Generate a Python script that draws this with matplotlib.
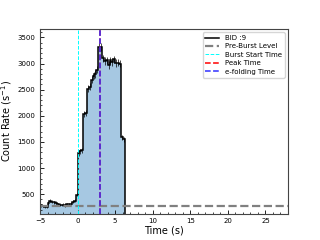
import numpy as np
import matplotlib
matplotlib.use("Agg")
import matplotlib.pyplot as plt
from matplotlib.ticker import AutoMinorLocator

# ── datos de la curva de luz (bins de 0.25 s) ───────────────────────────────
bordes = np.arange(-5.0, 6.25 + 0.01, 0.25)
tasa = [290, 275, 255, 260, 330, 375, 360, 345, 340, 310,
        300, 295, 300, 290, 305, 315, 320, 360, 380, 490,
        1290, 1320, 1340, 2030, 2050, 2520, 2560, 2690, 2770, 2800,
        2880, 3320, 3310, 3100, 3050, 3060, 2970, 3060, 3030, 3080,
        3010, 3020, 3000, 1590, 1550]
error = [25, 25, 24, 24, 27, 28, 28, 27, 27, 26,
         25, 25, 25, 25, 26, 26, 26, 28, 28, 32,
         50, 50, 50, 60, 60, 65, 65, 67, 68, 68,
         69, 74, 74, 72, 71, 71, 70, 71, 71, 72,
         71, 71, 71, 52, 51]

nivel_pre = 280
t_inicio = 0.0
t_pico = 3.0
t_efold = 3.0

centros = (bordes[:-1] + bordes[1:]) / 2

fig, ax = plt.subplots(figsize=(3.2, 2.4), dpi=100)

ax.stairs(tasa, bordes, baseline=0, fill=True, color="#a6c8e2")
ax.stairs(tasa, bordes, baseline=0, color="black", lw=1.1, label="BID :9")
ax.errorbar(centros, tasa, yerr=error, fmt="none", ecolor="black", elinewidth=0.5)

ax.axhline(nivel_pre, color="gray", ls="--", lw=1.6, label="Pre-Burst Level")
ax.axvline(t_inicio, color="cyan", ls="--", lw=0.7, label="Burst Start Time")
# el pico coincide con el e-folding: la línea azul la tapa
ax.axvline(t_pico, color="red", ls="--", lw=1.1, label="Peak Time")
ax.axvline(t_efold, color="#3030ff", ls="--", lw=1.1, label="e-folding Time")

ax.set_xlim(-5, 28)
ax.set_ylim(130, 3665)
ax.set_xticks([-5, 0, 5, 10, 15, 20, 25])
ax.set_yticks([500, 1000, 1500, 2000, 2500, 3000, 3500])
ax.xaxis.set_minor_locator(AutoMinorLocator(5))
ax.yaxis.set_minor_locator(AutoMinorLocator(5))
ax.tick_params(which="both", direction="in", labelsize=5)
ax.tick_params(which="major", length=3, width=0.6)
ax.tick_params(which="minor", length=1.5, width=0.5)
for s in ax.spines.values():
    s.set_linewidth(0.8)
    s.set_color("#444444")

ax.set_xlabel("Time (s)", fontsize=7, labelpad=1)
ax.set_ylabel("Count Rate (s$^{-1}$)", fontsize=7, labelpad=2)
ax.legend(loc="upper right", fontsize=5, handlelength=2.0, borderpad=0.4,
          labelspacing=0.35)

plt.savefig("out.png", dpi=100)
